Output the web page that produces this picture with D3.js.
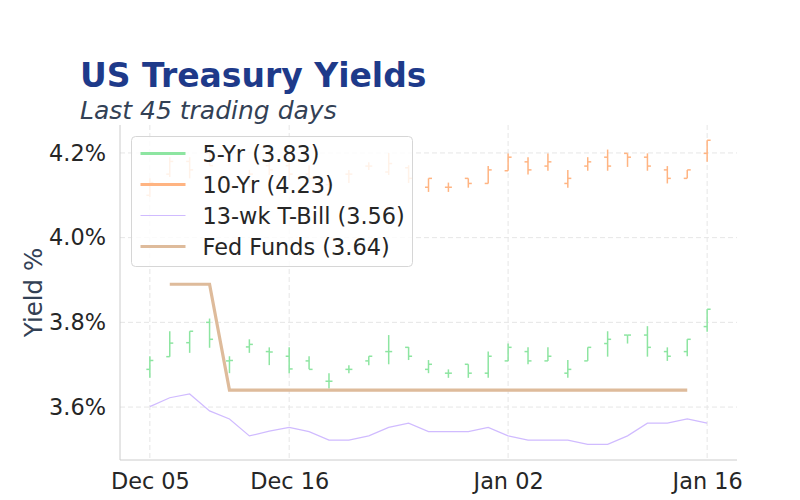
<!DOCTYPE html>
<html lang="en">
<head>
  <meta charset="UTF-8" />
  <title>US Treasury Yields</title>
  <style>
    body { margin: 0; background: #fff; }
    svg text { font-family: "DejaVu Sans", sans-serif; }
    .grid line { stroke: #e6e6e6; stroke-dasharray: 5,3; }
    .axis path { stroke: #cccccc; }
    .axis text { fill: #262626; font-size: 22.4px; }
  </style>
</head>
<body>
  <svg id="chart"></svg>

  <script src="https://d3js.org/d3.v7.min.js"></script>
  <script>
    // trading days shown on the chart
    const dates = ["Dec 05", "Dec 06", "Dec 09", "Dec 10", "Dec 11", "Dec 12", "Dec 13",
      "Dec 16", "Dec 17", "Dec 18", "Dec 19", "Dec 20", "Dec 23", "Dec 24", "Dec 26",
      "Dec 27", "Dec 30", "Dec 31", "Jan 02", "Jan 03", "Jan 06", "Jan 07", "Jan 08",
      "Jan 09", "Jan 10", "Jan 13", "Jan 14", "Jan 15", "Jan 16"];
    const xTickLabels = ["Dec 05", "Dec 16", "Jan 02", "Jan 16"];
    const yTicks = [3.6, 3.8, 4.0, 4.2];

    // [open, high, low, close]
    const fiveYr = [
      [3.689, 3.720, 3.669, 3.710], [3.719, 3.779, 3.719, 3.751], [3.752, 3.779, 3.728, 3.779],
      [3.800, 3.809, 3.740, 3.760], [3.709, 3.720, 3.680, 3.710], [3.742, 3.760, 3.728, 3.748],
      [3.731, 3.741, 3.699, 3.730], [3.720, 3.741, 3.680, 3.690], [3.709, 3.720, 3.689, 3.689],
      [3.661, 3.680, 3.644, 3.661], [3.689, 3.699, 3.680, 3.689], [3.709, 3.720, 3.699, 3.720],
      [3.731, 3.770, 3.701, 3.731], [3.741, 3.742, 3.711, 3.720], [3.689, 3.711, 3.680, 3.701],
      [3.680, 3.689, 3.669, 3.680], [3.701, 3.701, 3.669, 3.680], [3.680, 3.731, 3.669, 3.720],
      [3.709, 3.750, 3.709, 3.741], [3.731, 3.741, 3.701, 3.709], [3.709, 3.741, 3.709, 3.720],
      [3.680, 3.711, 3.669, 3.689], [3.709, 3.741, 3.709, 3.741], [3.750, 3.779, 3.719, 3.760],
      [3.770, 3.770, 3.750, 3.770], [3.770, 3.791, 3.719, 3.741], [3.731, 3.741, 3.709, 3.720],
      [3.731, 3.760, 3.720, 3.760], [3.790, 3.831, 3.778, 3.831]
    ];
    const tenYr = [
      [4.100, 4.140, 4.096, 4.130], [4.150, 4.190, 4.143, 4.180], [4.180, 4.190, 4.140, 4.160],
      [4.200, 4.220, 4.170, 4.170], [4.125, 4.136, 4.108, 4.120], [4.140, 4.160, 4.120, 4.150],
      [4.170, 4.183, 4.148, 4.160], [4.170, 4.180, 4.136, 4.150], [4.150, 4.171, 4.129, 4.140],
      [4.125, 4.140, 4.110, 4.125], [4.150, 4.160, 4.129, 4.150], [4.169, 4.178, 4.160, 4.169],
      [4.155, 4.200, 4.148, 4.175], [4.165, 4.171, 4.129, 4.140], [4.119, 4.140, 4.108, 4.140],
      [4.119, 4.130, 4.108, 4.119], [4.140, 4.140, 4.118, 4.128], [4.128, 4.169, 4.128, 4.160],
      [4.158, 4.199, 4.158, 4.190], [4.179, 4.190, 4.149, 4.160], [4.169, 4.199, 4.158, 4.179],
      [4.128, 4.160, 4.118, 4.140], [4.169, 4.190, 4.158, 4.179], [4.190, 4.208, 4.158, 4.169],
      [4.199, 4.199, 4.167, 4.190], [4.190, 4.199, 4.158, 4.169], [4.160, 4.169, 4.128, 4.140],
      [4.140, 4.160, 4.140, 4.160], [4.199, 4.230, 4.179, 4.230]
    ];
    const tBill = [3.601, 3.622, 3.631, 3.591, 3.572, 3.532, 3.543, 3.552, 3.542, 3.522,
      3.522, 3.532, 3.552, 3.562, 3.542, 3.542, 3.542, 3.552, 3.532, 3.522, 3.522, 3.522,
      3.512, 3.512, 3.532, 3.562, 3.562, 3.572, 3.562];
    const fedFunds = [null, 3.89, 3.89, 3.89, 3.64, 3.64, 3.64, 3.64, 3.64, 3.64, 3.64,
      3.64, 3.64, 3.64, 3.64, 3.64, 3.64, 3.64, 3.64, 3.64, 3.64, 3.64, 3.64, 3.64, 3.64,
      3.64, 3.64, 3.64, null];

    const colors = { five: "#8de5a1", ten: "#ffb482", bill: "#d0bbff", fed: "#debb9b" };

    const W = 800, H = 500;
    const plot = { left: 120, right: 737, top: 125, bottom: 460 };

    const svg = d3.select("#chart").attr("width", W).attr("height", H);

    const x = d3.scalePoint()
      .domain(dates)
      .range([plot.left, plot.right])
      .padding(1.5);

    const y = d3.scaleLinear()
      .domain([3.475, 4.266])
      .range([plot.bottom, plot.top]);

    // grid
    svg.append("g").attr("class", "grid")
      .selectAll("line").data(yTicks).join("line")
      .attr("x1", plot.left).attr("x2", plot.right)
      .attr("y1", d => y(d)).attr("y2", d => y(d));
    svg.append("g").attr("class", "grid")
      .selectAll("line").data(xTickLabels).join("line")
      .attr("x1", d => x(d)).attr("x2", d => x(d))
      .attr("y1", plot.top).attr("y2", plot.bottom);

    // axes
    const yAxis = d3.axisLeft(y).tickValues(yTicks).tickSize(0).tickPadding(14)
      .tickFormat(d => d3.format(".1f")(d) + "%");
    svg.append("g").attr("class", "axis")
      .attr("transform", `translate(${plot.left},0)`)
      .call(yAxis)
      .call(g => g.select(".domain").attr("d", `M0,${plot.top}V${plot.bottom}`));

    const xAxis = d3.axisBottom(x).tickValues(xTickLabels).tickSize(0).tickPadding(13);
    svg.append("g").attr("class", "axis")
      .attr("transform", `translate(0,${plot.bottom})`)
      .call(xAxis)
      .call(g => g.select(".domain").attr("d", `M${plot.left},0H${plot.right}`));

    // OHLC bars
    function drawOHLC(data, color) {
      const g = svg.append("g").attr("stroke", color).attr("stroke-width", 1.5);
      const bars = g.selectAll("g").data(data).join("g")
        .attr("transform", (d, i) => `translate(${x(dates[i])},0)`);
      bars.append("line").attr("y1", d => y(d[1])).attr("y2", d => y(d[2]));
      bars.append("line").attr("x1", -3.5).attr("x2", 0)
        .attr("y1", d => y(d[0])).attr("y2", d => y(d[0]));
      bars.append("line").attr("x1", 0).attr("x2", 3.5)
        .attr("y1", d => y(d[3])).attr("y2", d => y(d[3]));
    }
    drawOHLC(fiveYr, colors.five);
    drawOHLC(tenYr, colors.ten);

    const line = d3.line()
      .defined(d => d != null)
      .x((d, i) => x(dates[i]))
      .y(d => y(d));

    svg.append("path").datum(tBill)
      .attr("d", line).attr("fill", "none")
      .attr("stroke", colors.bill).attr("stroke-width", 1.2);

    svg.append("path").datum(fedFunds)
      .attr("d", line).attr("fill", "none")
      .attr("stroke", colors.fed).attr("stroke-width", 3.2);

    // titles
    svg.append("text").attr("x", 80).attr("y", 87)
      .attr("font-size", 33).attr("font-weight", "bold").attr("fill", "#1e3a8a")
      .text("US Treasury Yields");
    svg.append("text").attr("x", 80).attr("y", 119)
      .attr("font-size", 25).attr("font-style", "italic").attr("fill", "#334155")
      .text("Last 45 trading days");

    svg.append("text")
      .attr("transform", `translate(42,${(plot.top + plot.bottom) / 2}) rotate(-90)`)
      .attr("text-anchor", "middle")
      .attr("font-size", 24.5).attr("fill", "#334155")
      .text("Yield %");

    // legend
    const last = arr => arr.filter(v => v != null).slice(-1)[0];
    const legendItems = [
      { label: `5-Yr (${fiveYr[fiveYr.length - 1][3].toFixed(2)})`, color: colors.five, w: 3 },
      { label: `10-Yr (${tenYr[tenYr.length - 1][3].toFixed(2)})`, color: colors.ten, w: 3 },
      { label: `13-wk T-Bill (${last(tBill).toFixed(2)})`, color: colors.bill, w: 1.2 },
      { label: `Fed Funds (${last(fedFunds).toFixed(2)})`, color: colors.fed, w: 3.2 }
    ];
    const legend = svg.append("g").attr("transform", "translate(131.5,136.5)");
    legend.append("rect")
      .attr("width", 281).attr("height", 130).attr("rx", 4)
      .attr("fill", "#fff").attr("fill-opacity", 0.82)
      .attr("stroke", "#d6d6d6");
    const li = legend.selectAll("g.item").data(legendItems).join("g")
      .attr("class", "item")
      .attr("transform", (d, i) => `translate(0,${17 + i * 31})`);
    li.append("line").attr("x1", 9).attr("x2", 54)
      .attr("stroke", d => d.color).attr("stroke-width", d => d.w);
    li.append("text").attr("x", 71).attr("y", 8)
      .attr("font-size", 22.4).attr("fill", "#262626")
      .text(d => d.label);
  </script>
</body>
</html>
